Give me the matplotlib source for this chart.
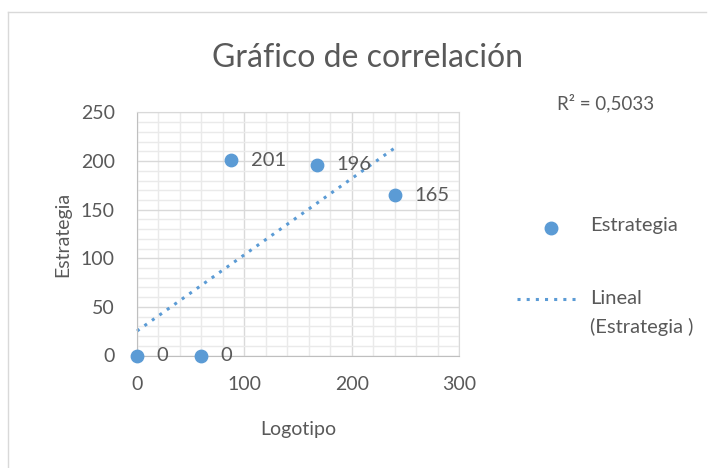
import numpy as np
import matplotlib
matplotlib.use('Agg')
import matplotlib.pyplot as plt
from matplotlib.lines import Line2D

plt.rcParams['font.family'] = ['Lato', 'DejaVu Sans']

# datos
logotipo = [0, 60, 88, 168, 240]
estrategia = [0, 0, 201, 196, 165]
r2_text = 'R² = 0,5033'

AZUL = '#5B9BD5'
GRIS = '#595959'

fig = plt.figure(figsize=(7.15, 4.68), dpi=100)
W, H = 715, 468
ax = fig.add_axes([137 / W, 1 - 355.5 / H, (459 - 137) / W, (355.5 - 112.5) / H])

ax.set_xlim(0, 300)
ax.set_ylim(0, 250)
ax.set_xticks(np.arange(0, 301, 100))
ax.set_yticks(np.arange(0, 251, 50))
ax.set_xticks(np.arange(0, 301, 20), minor=True)
ax.set_yticks(np.arange(0, 251, 10), minor=True)
ax.grid(which='major', color='#D9D9D9', lw=1.0, zorder=0)
ax.grid(which='minor', color='#EAEAEA', lw=1.0, zorder=0)
ax.tick_params(which='both', length=0, labelsize=14, labelcolor=GRIS)
ax.tick_params(axis='x', pad=15)
ax.tick_params(axis='y', pad=16)
for s in ax.spines.values():
    s.set_color('#D9D9D9')
ax.spines['left'].set_color('#BFBFBF')
ax.spines['bottom'].set_color('#BFBFBF')
ax.set_axisbelow(True)

# linea de tendencia
m, b = np.polyfit(logotipo, estrategia, 1)
xt = np.array([min(logotipo), max(logotipo)])
ax.plot(xt, m * xt + b, ls=(0, (1, 2)), color=AZUL, lw=2.2, zorder=2, clip_on=False)

ax.scatter(logotipo, estrategia, s=80, color=AZUL, zorder=3, clip_on=False)
for x, y in zip(logotipo, estrategia):
    ax.annotate(f'{y}', (x, y), xytext=(14, 0), textcoords='offset points',
                va='center', ha='left', fontsize=14.5, color=GRIS)

ax.set_xlabel('Logotipo', fontsize=14, color=GRIS, labelpad=20)
ax.set_ylabel('Estrategia', fontsize=14, color=GRIS, labelpad=7)

fig.text(368 / W, 1 - 58 / H, 'Gráfico de correlación', ha='center', va='center',
         fontsize=23, color=GRIS)
fig.text(606 / W, 1 - 103 / H, r2_text, ha='center', va='center', fontsize=13.5, color=GRIS)

# leyenda
fig.add_artist(Line2D([551 / W], [1 - 228 / H], marker='o', ms=9, color=AZUL, ls=''))
fig.text(590 / W, 1 - 225 / H, 'Estrategia', ha='left', va='center', fontsize=14.5, color=GRIS)
fig.add_artist(Line2D([517 / W, 581 / W], [1 - 299 / H, 1 - 299 / H], ls=(0, (1, 2)),
                      color=AZUL, lw=2.2))
fig.text(590 / W, 1 - 298 / H, 'Lineal', ha='left', va='center', fontsize=14.5, color=GRIS)
fig.text(590 / W, 1 - 327 / H, '(Estrategia )', ha='left', va='center', fontsize=14.5, color=GRIS)

# marco
fig.add_artist(Line2D([8 / W, 706 / W], [1 - 12 / H, 1 - 12 / H], color='#D9D9D9', lw=1))
fig.add_artist(Line2D([8 / W, 8 / W], [1 - 12 / H, 0], color='#D9D9D9', lw=1))

fig.savefig('out.png', dpi=100)
